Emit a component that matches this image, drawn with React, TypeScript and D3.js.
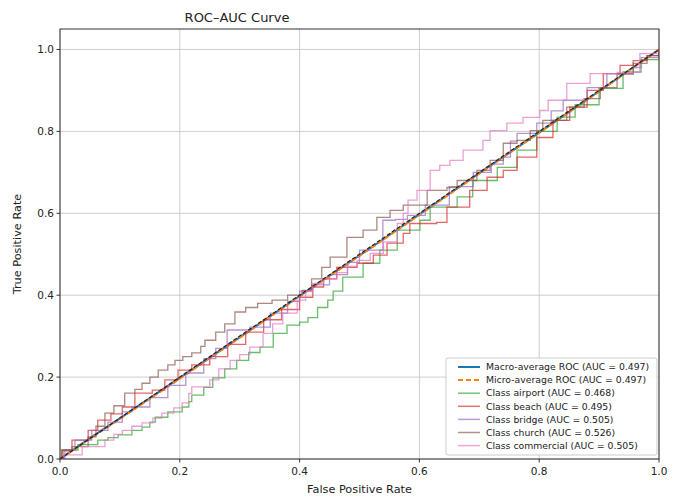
import React from 'react';
import * as d3 from 'd3';

type Pt = [number, number];

// [fpr, tpr] corners
const macroRoc: Pt[] = [
  [0, 0], [0.05, 0.051], [0.1, 0.099], [0.2, 0.198], [0.3, 0.297], [0.4, 0.398],
  [0.5, 0.497], [0.6, 0.597], [0.7, 0.698], [0.8, 0.797], [0.9, 0.898], [1, 1],
];
const microRoc: Pt[] = [
  [0, 0], [0.05, 0.049], [0.1, 0.098], [0.2, 0.196], [0.3, 0.296], [0.4, 0.397],
  [0.5, 0.496], [0.6, 0.596], [0.7, 0.697], [0.8, 0.797], [0.9, 0.897], [1, 1],
];
const airportRoc: Pt[] = [
  [0, 0], [0.003, 0.022], [0.03, 0.035], [0.063, 0.046], [0.08, 0.052], [0.097, 0.059],
  [0.12, 0.07], [0.137, 0.078], [0.15, 0.09], [0.159, 0.102], [0.18, 0.115], [0.204, 0.127],
  [0.215, 0.14], [0.22, 0.156], [0.24, 0.175], [0.255, 0.198], [0.275, 0.22], [0.295, 0.241],
  [0.315, 0.26], [0.334, 0.273], [0.356, 0.307], [0.379, 0.327], [0.4, 0.334], [0.414, 0.345],
  [0.43, 0.37], [0.447, 0.388], [0.456, 0.41], [0.472, 0.444], [0.506, 0.478], [0.534, 0.51],
  [0.563, 0.559], [0.601, 0.583], [0.618, 0.615], [0.663, 0.64], [0.689, 0.68], [0.73, 0.712],
  [0.763, 0.754], [0.796, 0.8], [0.83, 0.835], [0.86, 0.865], [0.9, 0.905],
  [0.94, 0.945], [0.97, 0.975], [1, 1],
];
const beachRoc: Pt[] = [
  [0, 0], [0.005, 0.02], [0.02, 0.046], [0.047, 0.07], [0.063, 0.095], [0.085, 0.11],
  [0.104, 0.127], [0.125, 0.161], [0.154, 0.168], [0.175, 0.193], [0.197, 0.217], [0.22, 0.23],
  [0.25, 0.25], [0.28, 0.28], [0.31, 0.31], [0.34, 0.34], [0.37, 0.365], [0.4, 0.395],
  [0.422, 0.42], [0.44, 0.44], [0.462, 0.468], [0.496, 0.478], [0.523, 0.498], [0.546, 0.527],
  [0.573, 0.551], [0.584, 0.575], [0.629, 0.578], [0.646, 0.615], [0.684, 0.656], [0.713, 0.688],
  [0.74, 0.705], [0.763, 0.737], [0.796, 0.785], [0.823, 0.827], [0.851, 0.859],
  [0.88, 0.9], [0.907, 0.941], [0.935, 0.961], [0.957, 0.973], [0.98, 0.985], [1, 1],
];
const bridgeRoc: Pt[] = [
  [0, 0], [0.008, 0.022], [0.025, 0.046], [0.053, 0.07], [0.08, 0.09], [0.104, 0.115],
  [0.12, 0.127], [0.15, 0.15], [0.18, 0.18], [0.21, 0.21], [0.24, 0.245], [0.26, 0.27],
  [0.279, 0.315], [0.317, 0.322], [0.351, 0.356], [0.38, 0.385], [0.4, 0.41], [0.42, 0.425],
  [0.45, 0.45], [0.48, 0.48], [0.5, 0.51], [0.539, 0.583], [0.56, 0.585], [0.58, 0.595],
  [0.61, 0.62], [0.65, 0.665], [0.69, 0.7], [0.72, 0.72], [0.74, 0.737], [0.752, 0.776],
  [0.763, 0.795], [0.796, 0.82], [0.82, 0.85], [0.84, 0.876], [0.88, 0.907], [0.913, 0.941],
  [0.957, 0.956], [0.97, 0.98], [1, 1],
];
const churchRoc: Pt[] = [
  [0, 0], [0.003, 0.022], [0.02, 0.03], [0.047, 0.054], [0.06, 0.08], [0.075, 0.112],
  [0.09, 0.13], [0.108, 0.161], [0.125, 0.17], [0.137, 0.185], [0.15, 0.2], [0.164, 0.217],
  [0.18, 0.23], [0.192, 0.241], [0.205, 0.25], [0.22, 0.259], [0.235, 0.275], [0.242, 0.29],
  [0.26, 0.31], [0.275, 0.33], [0.292, 0.359], [0.31, 0.37], [0.33, 0.38], [0.354, 0.388],
  [0.38, 0.4], [0.404, 0.412], [0.42, 0.44], [0.437, 0.468], [0.451, 0.493], [0.479, 0.541],
  [0.506, 0.559], [0.529, 0.59], [0.551, 0.607], [0.573, 0.62], [0.613, 0.656], [0.646, 0.663],
  [0.663, 0.68], [0.696, 0.705], [0.718, 0.729], [0.74, 0.771], [0.763, 0.778], [0.785, 0.802],
  [0.806, 0.827], [0.846, 0.859], [0.875, 0.88], [0.902, 0.907], [0.93, 0.94],
  [0.957, 0.966], [0.98, 0.985], [1, 1],
];
const commercialRoc: Pt[] = [
  [0, 0], [0.005, 0.01], [0.037, 0.03], [0.075, 0.046], [0.09, 0.06], [0.104, 0.07],
  [0.12, 0.08], [0.137, 0.088], [0.155, 0.1], [0.17, 0.112], [0.19, 0.125], [0.204, 0.137],
  [0.215, 0.16], [0.22, 0.176], [0.25, 0.193], [0.265, 0.22], [0.284, 0.241], [0.3, 0.255],
  [0.317, 0.273], [0.339, 0.307], [0.355, 0.33], [0.372, 0.356], [0.396, 0.388], [0.41, 0.41],
  [0.422, 0.429], [0.44, 0.44], [0.462, 0.455], [0.48, 0.47], [0.496, 0.485], [0.518, 0.502],
  [0.54, 0.53], [0.563, 0.575], [0.573, 0.6], [0.581, 0.632], [0.596, 0.656], [0.618, 0.705],
  [0.634, 0.717], [0.651, 0.729], [0.673, 0.754], [0.706, 0.778], [0.718, 0.802], [0.746, 0.82],
  [0.773, 0.834], [0.801, 0.851], [0.815, 0.876], [0.846, 0.917], [0.885, 0.941], [0.93, 0.944],
  [0.968, 0.99], [1, 1],
];

const classNames = ['airport', 'beach', 'bridge', 'church', 'commercial'];
const classAuc = ['0.468', '0.495', '0.505', '0.526', '0.505'];
const classCurves = [airportRoc, beachRoc, bridgeRoc, churchRoc, commercialRoc];
const classColors = ['#2ca02c', '#d62728', '#9467bd', '#8c564b', '#e377c2'];
const ticks = [0, 0.2, 0.4, 0.6, 0.8, 1.0];

const W = 682;
const H = 497;
const left = 60, right = 659, top = 29, bottom = 459;
const FONT = 'DejaVu Sans, sans-serif';

const App: React.FC = () => {
  const x = d3.scaleLinear().domain([0, 1]).range([left, right]);
  const y = d3.scaleLinear().domain([0, 1.05]).range([bottom, top]);
  const stepLine = d3.line<Pt>().x(d => x(d[0])).y(d => y(d[1])).curve(d3.curveStepAfter);
  const smooth = d3.line<Pt>().x(d => x(d[0])).y(d => y(d[1]));

  const legendRows = [
    { label: 'Macro-average ROC (AUC = 0.497)', color: '#1f77b4', dash: undefined, w: 2, op: 1 },
    { label: 'Micro-average ROC (AUC = 0.497)', color: '#ff7f0e', dash: '5,3', w: 2, op: 1 },
    ...classNames.map((c, i) => ({
      label: `Class ${c} (AUC = ${classAuc[i]})`, color: classColors[i], dash: undefined, w: 1.5, op: 0.65,
    })),
  ];

  return (
    <svg width={W} height={H} style={{ position: 'absolute', left: 0, top: 0, background: '#fff' }}
      fontFamily={FONT}>
      <defs>
        <clipPath id="plot-clip">
          <rect x={left} y={top} width={right - left} height={bottom - top} />
        </clipPath>
      </defs>

      {/* grid */}
      {ticks.map(t => (
        <g key={'g' + t} stroke="#c8c8c8" strokeWidth={0.9}>
          <line x1={x(t)} x2={x(t)} y1={top} y2={bottom} />
          <line x1={left} x2={right} y1={y(t)} y2={y(t)} />
        </g>
      ))}

      <g clipPath="url(#plot-clip)" fill="none">
        <path d={smooth(macroRoc) || ''} stroke="#1f77b4" strokeWidth={2} />
        <path d={smooth(microRoc) || ''} stroke="#ff7f0e" strokeWidth={2} strokeDasharray="5,3" />
        {classCurves.map((c, i) => (
          <path key={classNames[i]} d={stepLine(c) || ''} stroke={classColors[i]}
            strokeWidth={1.3} strokeOpacity={0.7} />
        ))}
        <line x1={x(0)} y1={y(0)} x2={x(1)} y2={y(1)} stroke="#222" strokeWidth={1.2} strokeDasharray="4,2" />
      </g>

      {/* axes frame */}
      <rect x={left} y={top} width={right - left} height={bottom - top} fill="none" stroke="#333" strokeWidth={1} />

      {/* ticks */}
      {ticks.map(t => (
        <g key={'t' + t} fontSize={10.5} fill="#222">
          <line x1={x(t)} x2={x(t)} y1={bottom} y2={bottom + 3.5} stroke="#333" />
          <text x={x(t)} y={bottom + 16} textAnchor="middle">{t.toFixed(1)}</text>
          <line x1={left - 3.5} x2={left} y1={y(t)} y2={y(t)} stroke="#333" />
          <text x={left - 6} y={y(t)} dy="0.35em" textAnchor="end">{t.toFixed(1)}</text>
        </g>
      ))}

      <text x={237} y={22} textAnchor="middle" fontSize={13} fill="#222">ROC–AUC Curve</text>
      <text x={(left + right) / 2} y={493} textAnchor="middle" fontSize={11.3} fill="#222">False Positive Rate</text>
      <text transform={`translate(21,${(top + bottom) / 2}) rotate(-90)`} textAnchor="middle" fontSize={11.3} fill="#222">
        True Positive Rate
      </text>

      {/* legend */}
      <g>
        <rect x={446} y={358} width={211} height={97} rx={2} fill="#fff" fillOpacity={0.85} stroke="#ccc" />
        {legendRows.map((r, i) => {
          const yy = 367 + i * 13.1;
          return (
            <g key={r.label}>
              <line x1={458} x2={480} y1={yy} y2={yy} stroke={r.color} strokeWidth={r.w}
                strokeDasharray={r.dash} strokeOpacity={r.op} />
              <text x={486} y={yy} dy="0.35em" fontSize={9.3} fill="#222">{r.label}</text>
            </g>
          );
        })}
      </g>
    </svg>
  );
};

export default App;
